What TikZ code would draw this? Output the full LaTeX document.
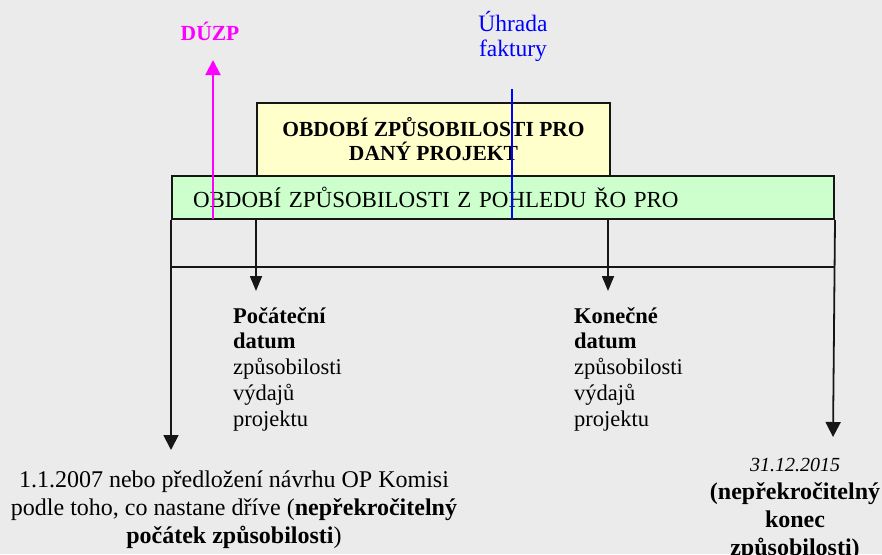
\documentclass[tikz,border=0pt]{standalone}
\usepackage{fontspec}
\setmainfont{Liberation Serif}
\usetikzlibrary{arrows.meta}
\definecolor{bg}{HTML}{EBEBEB}
\definecolor{projfill}{HTML}{FFFFCC}
\definecolor{opfill}{HTML}{CCFFCC}
\definecolor{edge}{HTML}{161616}
\definecolor{duzpcol}{HTML}{FF00FF}
\definecolor{paycol}{HTML}{0000FF}

\begin{document}
\begin{tikzpicture}[x=1pt,y=-1pt,
  box/.style={draw=edge, line width=2pt, inner sep=0pt},
  rule/.style={draw=edge, line width=1.8pt},
  arr/.style={rule, -{Triangle[width=12pt,length=15pt]}},
  arrlong/.style={rule, -{Triangle[width=15pt,length=15pt]}},
  datelabel/.style={inner sep=0pt, align=left, anchor=north west,
    font=\fontsize{22.5}{25.8}\selectfont},
  limitlabel/.style={inner sep=0pt, align=center, anchor=north,
    font=\fontsize{24}{28}\selectfont}
]
% page background
\fill[bg] (0,0) rectangle (882,554);
\useasboundingbox (0,0) rectangle (882,554);

% eligibility period of the project
\node[box, fill=projfill, anchor=north west, minimum width=353pt,
  minimum height=73pt, align=center,
  font=\bfseries\fontsize{21.5}{24}\selectfont] (proj) at (256,102)
  {OBDOBÍ ZPŮSOBILOSTI PRO\\DANÝ PROJEKT};

% eligibility period seen by the managing authority
\node[box, fill=opfill, anchor=north west, minimum width=662pt,
  minimum height=43pt, inner xsep=21pt, text width=620pt, align=left,
  font=\fontsize{23}{26}\selectfont] (op) at (171,175)
  {OBDOBÍ ZPŮSOBILOSTI Z POHLEDU ŘO PRO};

% free ends of the connectors
\coordinate (startTip) at (256,291);
\coordinate (finishTip) at (608,291);
\coordinate (earliestTip) at (171,450);
\coordinate (latestTip) at (833,437);
\coordinate (duzpFoot) at (213,219);
\coordinate (duzpTip) at (213,60);
\coordinate (payTop) at (512,89);
\coordinate (payFoot) at (512,219);

% frame below the bars
\draw[rule] (op.south west |- 0,267) -- (op.south east |- 0,267);
\draw[arrlong] (op.south west) -- (earliestTip);
\draw[arrlong] (op.south east) -- (latestTip);
\draw[arr] (op.south -| startTip) -- (startTip);
\draw[arr] (op.south -| finishTip) -- (finishTip);

% start and end dates of the project
\node[datelabel] (start) at (233,307)
  {\textbf{Počáteční}\\\textbf{datum}\\způsobilosti\\výdajů\\projektu};
\node[datelabel] (finish) at (574,307)
  {\textbf{Konečné}\\\textbf{datum}\\způsobilosti\\výdajů\\projektu};

% absolute limits of eligibility
\node[limitlabel] (earliest) at (234,471)
  {1.1.2007 nebo předložení návrhu OP Komisi\\
   podle toho, co nastane dříve (\textbf{nepřekročitelný}\\
   \textbf{počátek způsobilosti})};
\node[limitlabel] (latest) at (795,458)
  {{\itshape\fontsize{20}{24}\selectfont 31.12.2015}\\
   \textbf{(nepřekročitelný}\\\textbf{konec}\\\textbf{způsobilosti)}};

% tax point and invoice payment markers
\draw[draw=duzpcol, line width=2pt, -{Triangle[width=15pt,length=15pt]}]
  (duzpFoot) -- (duzpTip);
\node[text=duzpcol, anchor=base, inner sep=0pt,
  font=\bfseries\fontsize{21.5}{24}\selectfont] (duzp) at (210,40) {DÚZP};
\draw[draw=paycol, line width=1.5pt] (payTop) -- (payFoot);
\node[text=paycol, anchor=north, inner sep=0pt, align=center,
  font=\fontsize{23.5}{25}\selectfont] (pay) at (513,11) {Úhrada\\faktury};
\end{tikzpicture}
\end{document}
